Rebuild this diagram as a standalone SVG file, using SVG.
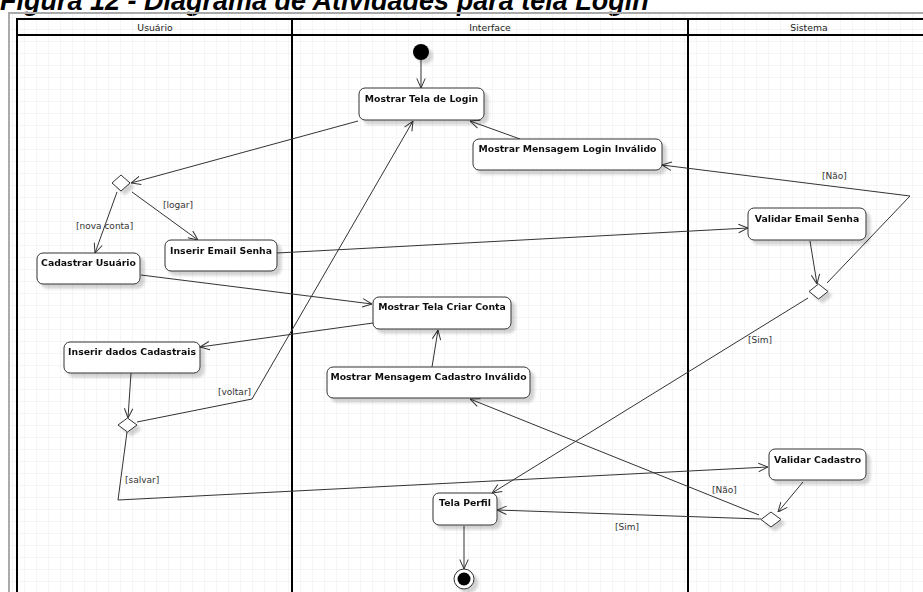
<svg xmlns="http://www.w3.org/2000/svg" width="923" height="592" viewBox="0 0 923 592">
  <defs>
    <pattern id="grid" width="12" height="12" patternUnits="userSpaceOnUse" x="1" y="6">
      <path d="M12 0 V12 M0 12 H12" fill="none" stroke="#ebebeb" stroke-width="1"/>
    </pattern>
    <filter id="shadow" x="-20%" y="-20%" width="150%" height="160%">
      <feGaussianBlur in="SourceAlpha" stdDeviation="1.6"/>
      <feOffset dx="4" dy="4" result="b"/>
      <feComponentTransfer><feFuncA type="linear" slope="0.18"/></feComponentTransfer>
      <feMerge><feMergeNode/><feMergeNode in="SourceGraphic"/></feMerge>
    </filter>
    <marker id="open" viewBox="0 0 10 10" refX="10" refY="5" markerWidth="10" markerHeight="10" markerUnits="userSpaceOnUse" orient="auto">
      <path d="M0.5 0.8 L10 5 L0.5 9.2" fill="none" stroke="#333" stroke-width="1"/>
    </marker>
  </defs>
  <style>
    .title { font-family: "Liberation Sans", Arial, sans-serif; font-size: 27px; font-weight: bold; font-style: italic; fill: #000; }
    .lane { font-family: "DejaVu Sans", sans-serif; font-size: 9.3px; fill: #222; text-anchor: middle; }
    .act rect { fill: #fff; stroke: #333; stroke-width: 1; }
    .act text { font-family: "DejaVu Sans", sans-serif; font-size: 9.3px; font-weight: bold; fill: #111; text-anchor: middle; }
    .dec polygon { fill: #fff; stroke: #333; stroke-width: 1; }
    .edge { fill: none; stroke: #333; stroke-width: 1; }
    .arrow { marker-end: url(#open); }
    .guard { font-family: "DejaVu Sans", sans-serif; font-size: 9px; fill: #333; }
  </style>

  <rect width="923" height="592" fill="#fff"/>
  <text class="title" x="0" y="10">Figura 12 - Diagrama de Atividades para tela Login</text>

  <!-- canvas with grid -->
  <rect x="9" y="13" width="930" height="600" fill="url(#grid)"/>
  <rect x="9" y="13" width="930" height="600" fill="none" stroke="#aaa" stroke-width="2"/>

  <!-- swimlanes -->
  <g id="lanes">
    <rect x="17" y="19" width="915" height="600" fill="none" stroke="#000" stroke-width="2"/>
    <line x1="17" y1="35" x2="932" y2="35" stroke="#000" stroke-width="2"/>
    <line x1="292" y1="19" x2="292" y2="600" stroke="#000" stroke-width="2"/>
    <line x1="688" y1="19" x2="688" y2="600" stroke="#000" stroke-width="2"/>
    <text class="lane" x="155" y="31">Usuário</text>
    <text class="lane" x="490" y="31">Interface</text>
    <text class="lane" x="809" y="31">Sistema</text>
  </g>

  <!-- connectors -->
  <g id="connectors">
    <path class="edge arrow" d="M421 60 V88"/>
    <path class="edge arrow" d="M358 121 L131 183"/>
    <path class="edge arrow" d="M520 139 L470 121"/>
    <path class="edge arrow" d="M117 192 L95 253"/>
    <path class="edge arrow" d="M132 192 L198 240"/>
    <path class="edge arrow" d="M277 253 L748 228"/>
    <path class="edge arrow" d="M810 241 L817 284"/>
    <path class="edge arrow" d="M827 283 L910 196 L662 165"/>
    <path class="edge arrow" d="M808 298 L492 493"/>
    <path class="edge arrow" d="M141 275 L372 304"/>
    <path class="edge arrow" d="M373 323 L200 347"/>
    <path class="edge arrow" d="M131 373 L128 418"/>
    <path class="edge arrow" d="M137 422 L252 399 L413 121"/>
    <path class="edge arrow" d="M127 432 L118 500 L768 467"/>
    <path class="edge arrow" d="M803 482 L778 512"/>
    <path class="edge arrow" d="M761 519 L497 510"/>
    <path class="edge arrow" d="M759 515 L470 399"/>
    <path class="edge arrow" d="M432 367 L438 330"/>
    <path class="edge arrow" d="M464 526 V569"/>
    <text class="guard" x="76" y="229">[nova conta]</text>
    <text class="guard" x="163" y="208">[logar]</text>
    <text class="guard" x="822" y="179">[Não]</text>
    <text class="guard" x="748" y="343">[Sim]</text>
    <text class="guard" x="218" y="395">[voltar]</text>
    <text class="guard" x="125" y="483">[salvar]</text>
    <text class="guard" x="712" y="493">[Não]</text>
    <text class="guard" x="615" y="530">[Sim]</text>
  </g>

  <!-- nodes -->
  <g id="start" filter="url(#shadow)"><circle cx="421" cy="52" r="8" fill="#000"/></g>

  <g id="mostrar-tela-login" class="act" filter="url(#shadow)">
    <rect x="359" y="88" width="125" height="32" rx="6"/>
    <text x="421.5" y="101.5">Mostrar Tela de Login</text>
  </g>
  <g id="msg-login-invalido" class="act" filter="url(#shadow)">
    <rect x="473" y="139" width="189" height="31" rx="6"/>
    <text x="567.5" y="152">Mostrar Mensagem Login Inválido</text>
  </g>
  <g id="inserir-email-senha" class="act" filter="url(#shadow)">
    <rect x="165" y="240" width="112" height="31" rx="6"/>
    <text x="221" y="253.5">Inserir Email Senha</text>
  </g>
  <g id="cadastrar-usuario" class="act" filter="url(#shadow)">
    <rect x="37" y="253" width="103" height="31" rx="6"/>
    <text x="88.5" y="266">Cadastrar Usuário</text>
  </g>
  <g id="validar-email-senha" class="act" filter="url(#shadow)">
    <rect x="748" y="208" width="118" height="32" rx="6"/>
    <text x="807" y="222">Validar Email Senha</text>
  </g>
  <g id="mostrar-tela-criar-conta" class="act" filter="url(#shadow)">
    <rect x="373" y="297" width="138" height="32" rx="6"/>
    <text x="442" y="309.5">Mostrar Tela Criar Conta</text>
  </g>
  <g id="inserir-dados-cadastrais" class="act" filter="url(#shadow)">
    <rect x="64" y="342" width="136" height="31" rx="6"/>
    <text x="132" y="355">Inserir dados Cadastrais</text>
  </g>
  <g id="msg-cadastro-invalido" class="act" filter="url(#shadow)">
    <rect x="327" y="367" width="203" height="31" rx="6"/>
    <text x="428.5" y="380">Mostrar Mensagem Cadastro Inválido</text>
  </g>
  <g id="validar-cadastro" class="act" filter="url(#shadow)">
    <rect x="769" y="449" width="97" height="31" rx="6"/>
    <text x="817.5" y="462.5">Validar Cadastro</text>
  </g>
  <g id="tela-perfil" class="act" filter="url(#shadow)">
    <rect x="433" y="493" width="64" height="32" rx="6"/>
    <text x="465" y="506">Tela Perfil</text>
  </g>

  <g id="decisao-acesso" class="dec" filter="url(#shadow)">
    <polygon points="121,175 130,183 121,191 112,183"/>
  </g>
  <g id="decisao-login" class="dec" filter="url(#shadow)">
    <polygon points="818.5,284 828,291.5 818.5,299 809,291.5"/>
  </g>
  <g id="decisao-cadastro-dados" class="dec" filter="url(#shadow)">
    <polygon points="127.5,418 137,425 127.5,432 118,425"/>
  </g>
  <g id="decisao-cadastro" class="dec" filter="url(#shadow)">
    <polygon points="771,512 781,519.5 771,527 761,519.5"/>
  </g>

  <g id="fim" filter="url(#shadow)">
    <circle cx="464" cy="579" r="10" fill="#fff" stroke="#333" stroke-width="1"/>
    <circle cx="464" cy="579" r="6.5" fill="#000"/>
  </g>
</svg>
